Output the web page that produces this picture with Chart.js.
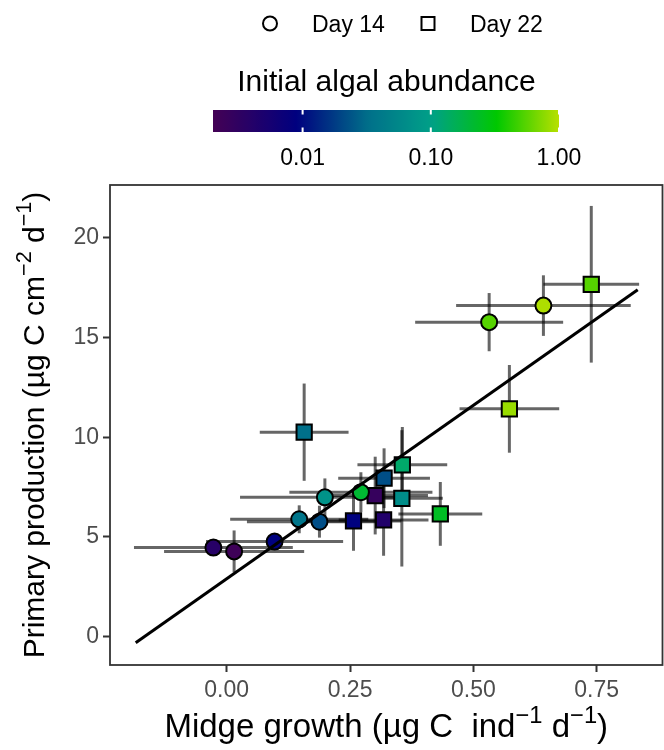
<!DOCTYPE html>
<html><head><meta charset="utf-8">
<script src="https://cdn.jsdelivr.net/npm/chart.js@4/dist/chart.umd.min.js"></script>
<style>html,body{margin:0;padding:0;background:#fff;}canvas{display:block;}</style>
</head><body>
<canvas id="c" width="664" height="750"></canvas>
<script>
// ---- data ----
const day14X    = [-0.027, 0.015, 0.097, 0.147, 0.188, 0.199, 0.272, 0.532, 0.642];
const day14Y    = [4.46, 4.27, 4.76, 5.88, 5.76, 6.98, 7.24, 15.77, 16.60];
const day14XErr = [0.161, 0.142, 0.139, 0.140, 0.147, 0.172, 0.145, 0.150, 0.177];
const day14YErr = [0.30, 1.05, 0.30, 0.70, 0.80, 0.95, 1.00, 1.46, 1.52];
const day14Abund= [0.0038, 0.0023, 0.009, 0.037, 0.022, 0.074, 0.21, 0.55, 0.94];

const day22X    = [0.739, 0.573, 0.157, 0.356, 0.319, 0.301, 0.355, 0.257, 0.318, 0.433];
const day22Y    = [17.67, 11.42, 10.25, 8.61, 7.94, 7.07, 6.93, 5.80, 5.85, 6.15];
const day22XErr = [0.097, 0.101, 0.090, 0.091, 0.093, 0.107, 0.083, 0.097, 0.091, 0.085];
const day22YErr = [3.93, 2.20, 2.44, 1.90, 1.50, 1.95, 3.42, 1.50, 1.80, 1.60];
const day22Abund= [0.55, 0.83, 0.033, 0.13, 0.022, 0.0027, 0.065, 0.009, 0.0043, 0.24];

const fitX = [-0.1845, 0.8332];
const fitY = [-0.31, 17.39];

const xTicks = [0, 0.25, 0.5, 0.75];
const yTicks = [0, 5, 10, 15, 20];
const cbTicks = [0.01, 0.1, 1];
const cbLimits = [0.002, 1.0];
const seriesNames = ['Day 14', 'Day 22'];
const cbTitle = 'Initial algal abundance';

// ---- colour map (position along log abundance) ----
const cmapStops = [[0, [68,1,84]], [0.24, [0,0,127]], [0.45, [0,112,138]], [0.63, [0,160,136]], [0.82, [0,200,0]], [1, [184,224,0]]];
function cmap(t){
  t = Math.max(0, Math.min(1, t));
  for (let i = 1; i < cmapStops.length; i++) {
    const [t1, c1] = cmapStops[i], [t0, c0] = cmapStops[i-1];
    if (t <= t1) {
      const f = (t - t0) / (t1 - t0);
      return 'rgb(' + c0.map((v,k)=>Math.round(v + (c1[k]-v)*f)).join(',') + ')';
    }
  }
}
const lmin = Math.log10(cbLimits[0]), lmax = Math.log10(cbLimits[1]);
const abundT = a => (Math.log10(a) - lmin) / (lmax - lmin);
const colorOf = a => cmap(abundT(a));

const FONT = "'Liberation Sans', Arial, sans-serif";

function drawRich(ctx, parts, cx, baseY, size){
  const supSize = size * 0.72;
  let w = 0;
  parts.forEach(p => { ctx.font = (p.sup ? supSize : size) + 'px ' + FONT; p.w = ctx.measureText(p.t).width; w += p.w; });
  let x = cx - w / 2;
  ctx.textAlign = 'left'; ctx.textBaseline = 'alphabetic';
  parts.forEach(p => {
    ctx.font = (p.sup ? supSize : size) + 'px ' + FONT;
    ctx.fillText(p.t, x, p.sup ? baseY - size * 0.42 : baseY);
    x += p.w;
  });
}

const errorBars = {
  id: 'errorBars',
  beforeDatasetsDraw(chart){
    const {ctx, scales:{x, y}} = chart;
    ctx.save();
    ctx.strokeStyle = 'rgba(0,0,0,0.6)';
    ctx.lineWidth = 3;
    ctx.lineCap = 'butt';
    const draw = (xs, ys, xe, ye) => {
      xs.forEach((xv, i) => {
        const px = x.getPixelForValue(xv), py = y.getPixelForValue(ys[i]);
        const x0 = x.getPixelForValue(xv - xe[i]), x1 = x.getPixelForValue(xv + xe[i]);
        const y0 = y.getPixelForValue(ys[i] - ye[i]), y1 = y.getPixelForValue(ys[i] + ye[i]);
        ctx.beginPath(); ctx.moveTo(x0, py); ctx.lineTo(x1, py); ctx.stroke();
        ctx.beginPath(); ctx.moveTo(px, y0); ctx.lineTo(px, y1); ctx.stroke();
      });
    };
    draw(day14X, day14Y, day14XErr, day14YErr);
    draw(day22X, day22Y, day22XErr, day22YErr);
    ctx.restore();
  }
};

const decor = {
  id: 'decor',
  afterDraw(chart){
    const {ctx, chartArea:a} = chart;
    ctx.save();
    ctx.strokeStyle = '#333'; ctx.lineWidth = 1.8;
    ctx.strokeRect(a.left, a.top, a.right - a.left, a.bottom - a.top);
    ctx.fillStyle = '#000';
    drawRich(ctx, [{t:'Midge growth (µg C  ind'},{t:'\u22121',sup:true},{t:' d'},{t:'\u22121',sup:true},{t:')'}],
      (a.left + a.right) / 2, 737, 33);
    ctx.save();
    ctx.translate(44, (a.top + a.bottom) / 2);
    ctx.rotate(-Math.PI / 2);
    drawRich(ctx, [{t:'Primary production (µg C cm'},{t:'\u22122',sup:true},{t:' d'},{t:'\u22121',sup:true},{t:')'}], 0, 0, 30);
    ctx.restore();

    ctx.lineWidth = 2; ctx.strokeStyle = '#000'; ctx.fillStyle = '#fff';
    ctx.beginPath(); ctx.arc(270, 23.5, 7, 0, Math.PI * 2); ctx.fill(); ctx.stroke();
    ctx.fillRect(421.5, 17, 13, 13); ctx.strokeRect(421.5, 17, 13, 13);
    ctx.fillStyle = '#000'; ctx.font = '23px ' + FONT; ctx.textAlign = 'left'; ctx.textBaseline = 'alphabetic';
    ctx.fillText(seriesNames[0], 312, 31.5);
    ctx.fillText(seriesNames[1], 470, 31.5);

    const cbL = 213, cbR = 559, cbT = 110, cbB = 132;
    ctx.font = '30px ' + FONT; ctx.textAlign = 'center';
    ctx.fillText(cbTitle, 386.5, 91);
    const g = ctx.createLinearGradient(cbL, 0, cbR, 0);
    for (let i = 0; i <= 50; i++) g.addColorStop(i / 50, cmap(i / 50));
    ctx.fillStyle = g; ctx.fillRect(cbL, cbT, cbR - cbL, cbB - cbT);
    ctx.strokeStyle = '#fff'; ctx.lineWidth = 2;
    ctx.font = '23px ' + FONT;
    cbTicks.forEach(v => {
      const px = cbL + abundT(v) * (cbR - cbL);
      ctx.beginPath(); ctx.moveTo(px, cbT); ctx.lineTo(px, cbT + 4.5); ctx.moveTo(px, cbB - 4.5); ctx.lineTo(px, cbB); ctx.stroke();
      ctx.fillStyle = '#000';
      ctx.fillText(v.toFixed(2), px, 165);
    });
    ctx.restore();
  }
};

new Chart(document.getElementById('c'), {
  type: 'scatter',
  data: {
    datasets: [
      { type: 'line', label: 'fit', data: fitX.map((x, i) => ({x, y: fitY[i]})),
        borderColor: '#000', borderWidth: 3, pointRadius: 0, showLine: true, fill: false, order: 0 },
      { label: seriesNames[0], data: day14X.map((x, i) => ({x, y: day14Y[i]})),
        pointStyle: 'circle', pointRadius: 8, backgroundColor: day14Abund.map(colorOf),
        borderColor: '#000', borderWidth: 2, order: 1 },
      { label: seriesNames[1], data: day22X.map((x, i) => ({x, y: day22Y[i]})),
        pointStyle: 'rect', pointRadius: 10.8, backgroundColor: day22Abund.map(colorOf),
        borderColor: '#000', borderWidth: 2, order: 1 }
    ]
  },
  options: {
    responsive: false, animation: false, devicePixelRatio: 1,
    layout: { autoPadding: false, padding: { top: 185, right: 1.5, left: 0, bottom: 0 } },
    plugins: { legend: { display: false }, tooltip: { enabled: false } },
    scales: {
      x: {
        type: 'linear', min: -0.2366, max: 0.8834,
        afterBuildTicks: s => { s.ticks = xTicks.map(v => ({value: v})); },
        afterFit: s => { s.height = 85; s.paddingLeft = 0; s.paddingRight = 0; },
        ticks: { callback: v => Number(v).toFixed(2), color: '#4d4d4d', font: {family: FONT, size: 23}, padding: 5, maxRotation: 0, autoSkip: false },
        grid: { drawOnChartArea: false, tickLength: 7, tickWidth: 2, tickColor: '#333' },
        border: { display: false }
      },
      y: {
        type: 'linear', min: -1.43, max: 22.65,
        afterBuildTicks: s => { s.ticks = yTicks.map(v => ({value: v})); },
        afterFit: s => { s.width = 110; s.paddingTop = 0; s.paddingBottom = 0; },
        ticks: { callback: v => String(v), color: '#4d4d4d', font: {family: FONT, size: 23}, padding: 4, autoSkip: false },
        grid: { drawOnChartArea: false, tickLength: 7, tickWidth: 2, tickColor: '#333' },
        border: { display: false }
      }
    }
  },
  plugins: [errorBars, decor]
});
</script>
</body></html>
